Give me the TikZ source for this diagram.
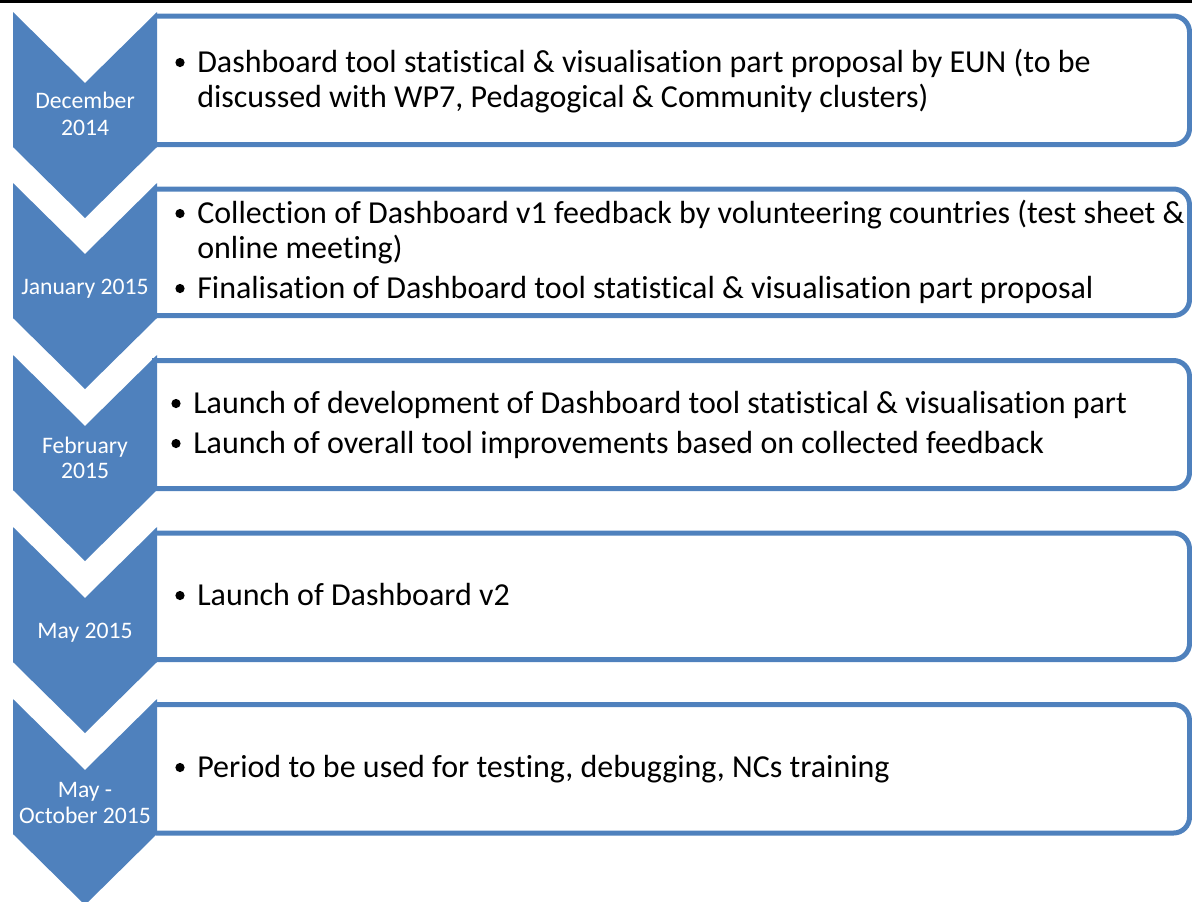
\documentclass[tikz,border=0pt]{standalone}
\usepackage{fontspec}
\setmainfont{Carlito}[Ligatures={NoCommon}]
\definecolor{sablue}{HTML}{4F81BD}
\begin{document}
\begin{tikzpicture}[x=0.75pt,y=-0.75pt,
  chev/.style={fill=sablue},
  boxline/.style={draw=sablue,line width=3.75pt,rounded corners=12pt},
  month/.style={text=white,anchor=base,inner sep=0pt,font=\fontsize{17.75}{21}\selectfont},
  item/.style={anchor=base west,inner sep=0pt,font=\fontsize{24}{29}\selectfont},
  bul/.style={circle,fill=black,inner sep=0pt,minimum size=6.9pt}]
\useasboundingbox (0,0) rectangle (1192,901);
\fill (0,0) rectangle (1192,3);
% boxes
\draw[boxline] (156,16) -- (1189.5,16) -- (1189.5,144.5) -- (156,144.5);
\draw[boxline] (156,189) -- (1189.5,189) -- (1189.5,315.5) -- (156,315.5);
\draw[boxline] (152,360.5) -- (1189.5,360.5) -- (1189.5,488.5) -- (152,488.5);
\draw[boxline] (156,533) -- (1189.5,533) -- (1189.5,659.5) -- (156,659.5);
\draw[boxline] (156,704.5) -- (1189.5,704.5) -- (1189.5,833) -- (156,833);
% chevrons
\foreach \t in {12,183,355,527,699}{
  \fill[chev] (13,\t) -- (85,\t+71) -- (157,\t) -- (157,\t+135) -- (85,\t+206) -- (13,\t+135) -- cycle;
}
% month labels
\node[month] (m1a) at (85,108) {December};
\node[month] (m1b) at (85,135) {2014};
\node[month] (m2) at (85,294) {January 2015};
\node[month] (m3a) at (85,453) {February};
\node[month] (m3b) at (85,478) {2015};
\node[month] (m4) at (85,638) {May 2015};
\node[month] (m5a) at (85,797) {May -};
\node[month] (m5b) at (85,823) {October 2015};
% items
\node[bul] (b1) at (180,62.5) {};
\node[item] (t1a) at (197,72) {Dashboard tool statistical \& visualisation part proposal by EUN (to be};
\node[item] (t1b) at (197,107) {discussed with WP7, Pedagogical \& Community clusters)};
\node[bul] (b2a) at (180,213.5) {};
\node[item] (t2a) at (197,223) {Collection of Dashboard v1 feedback by volunteering countries (test sheet \&};
\node[item] (t2b) at (197,258) {online meeting)};
\node[bul] (b2b) at (180,288.5) {};
\node[item] (t2c) at (197,298) {Finalisation of Dashboard tool statistical \& visualisation part proposal};
\node[bul] (b3a) at (176,403.5) {};
\node[item] (t3a) at (193,413) {Launch of development of Dashboard tool statistical \& visualisation part};
\node[bul] (b3b) at (176,443.5) {};
\node[item] (t3b) at (193,453) {Launch of overall tool improvements based on collected feedback};
\node[bul] (b4) at (180,595.5) {};
\node[item] (t4) at (197,605) {Launch of Dashboard v2};
\node[bul] (b5) at (180,767.5) {};
\node[item] (t5) at (197,777) {Period to be used for testing, debugging, NCs training};
\end{tikzpicture}
\end{document}
